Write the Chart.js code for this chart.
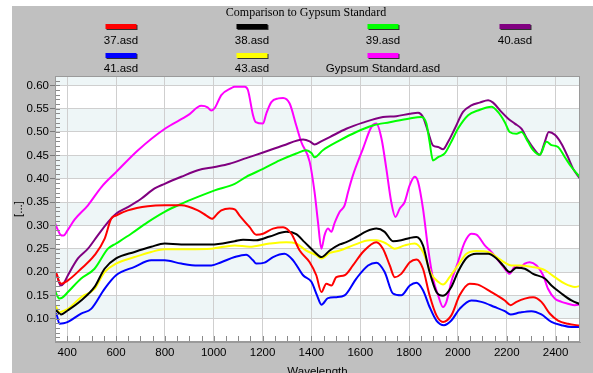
<!DOCTYPE html>
<html><head><meta charset="utf-8">
<script src="https://cdn.jsdelivr.net/npm/chart.js@4.4.1/dist/chart.umd.min.js"></script>
<style>
html,body{margin:0;padding:0;width:593px;height:373px;overflow:hidden;background:#ffffff;}
#panel{position:absolute;left:12px;top:6px;width:581px;height:367px;background:#c0c0c0;}
#wrap{position:absolute;left:0;top:0;width:593px;height:385px;}
.t{position:absolute;font-family:"Liberation Serif",serif;font-size:12px;color:#000;white-space:nowrap;transform:translate(-50%,-50%);}
.lab{position:absolute;font-family:"Liberation Sans",Arial,sans-serif;font-size:11.5px;color:#000;white-space:nowrap;transform:translate(-50%,-50%);}
.sw{position:absolute;width:31px;height:5px;box-shadow:1px 1px 0 #303030;transform:translateX(-50%);}
</style></head>
<body>
<div id="panel"></div>
<div id="wrap"><canvas id="c" width="593" height="385"></canvas></div>
<div id="legend"></div>
<script>
// ---- data ----
const seriesNames = ["37.asd","38.asd","39.asd","40.asd","41.asd","43.asd","Gypsum Standard.asd"];
const seriesColors = ["#ff0000","#000000","#00ff00","#800080","#0000ff","#ffff00","#ff00ff"];

const wl37 = [350,356,365,375,403,457,512,553,580,600,648,730,799,867,935,970,993,1015,1031,1065,1086,1106,1147,1174,1202,1243,1284,1318,1352,1393,1420,1441,1461,1482,1502,1536,1570,1611,1666,1693,1721,1741,1768,1803,1830,1857,1884,1912,1939,1973,2007,2048,2082,2137,2192,2216,2240,2274,2308,2342,2376,2410,2451,2500];
const v37  = [0.193,0.196,0.182,0.175,0.182,0.207,0.236,0.271,0.314,0.321,0.332,0.341,0.343,0.343,0.332,0.321,0.314,0.325,0.332,0.336,0.334,0.321,0.296,0.280,0.282,0.293,0.296,0.282,0.246,0.221,0.193,0.157,0.175,0.171,0.189,0.193,0.214,0.243,0.264,0.250,0.214,0.189,0.196,0.221,0.227,0.207,0.150,0.107,0.093,0.107,0.150,0.175,0.173,0.157,0.139,0.129,0.136,0.143,0.146,0.136,0.111,0.096,0.089,0.085];

const wl38 = [350,360,375,403,457,512,553,600,676,744,799,867,935,990,1086,1120,1174,1229,1297,1338,1372,1413,1441,1475,1516,1543,1584,1625,1666,1700,1734,1768,1803,1830,1857,1884,1912,1939,1973,2000,2035,2076,2124,2158,2185,2212,2240,2274,2308,2356,2383,2424,2465,2500];
const v38  = [0.121,0.115,0.109,0.118,0.139,0.168,0.207,0.229,0.243,0.254,0.261,0.259,0.259,0.259,0.266,0.269,0.268,0.276,0.286,0.281,0.264,0.243,0.232,0.246,0.259,0.264,0.275,0.287,0.293,0.286,0.266,0.268,0.273,0.275,0.257,0.200,0.157,0.149,0.168,0.200,0.230,0.239,0.239,0.229,0.214,0.200,0.209,0.207,0.196,0.186,0.171,0.154,0.139,0.131];

const wl39 = [350,358,368,380,403,457,512,567,600,662,730,799,867,935,1004,1086,1133,1202,1270,1338,1379,1400,1413,1447,1516,1584,1652,1721,1803,1850,1871,1884,1898,1919,1946,1973,2000,2042,2082,2137,2164,2192,2212,2240,2260,2287,2308,2335,2363,2383,2410,2438,2465,2500];
const v39  = [0.161,0.150,0.143,0.145,0.157,0.186,0.207,0.250,0.261,0.282,0.307,0.329,0.346,0.361,0.375,0.389,0.404,0.421,0.439,0.454,0.461,0.455,0.446,0.461,0.482,0.500,0.514,0.521,0.529,0.532,0.518,0.479,0.439,0.446,0.454,0.479,0.507,0.536,0.546,0.554,0.543,0.521,0.500,0.496,0.500,0.479,0.461,0.451,0.479,0.472,0.468,0.446,0.425,0.403];

const wl40 = [350,355,365,373,385,403,444,485,526,567,600,648,703,758,799,867,935,1004,1065,1133,1202,1284,1366,1393,1413,1440,1475,1543,1611,1693,1748,1803,1837,1857,1878,1898,1919,1939,1960,1987,2021,2055,2089,2124,2144,2178,2205,2233,2260,2287,2315,2335,2356,2372,2397,2424,2451,2472,2500];
const v40  = [0.193,0.196,0.180,0.171,0.175,0.193,0.229,0.250,0.279,0.307,0.325,0.339,0.357,0.379,0.389,0.404,0.418,0.425,0.432,0.444,0.456,0.471,0.484,0.480,0.473,0.480,0.489,0.507,0.520,0.532,0.534,0.539,0.541,0.532,0.500,0.471,0.468,0.463,0.479,0.507,0.543,0.557,0.563,0.568,0.563,0.543,0.529,0.518,0.507,0.482,0.461,0.451,0.479,0.500,0.494,0.475,0.446,0.421,0.400];

const wl41 = [350,355,368,385,403,457,498,553,600,676,744,799,867,935,990,1031,1086,1133,1161,1174,1208,1243,1290,1325,1366,1400,1423,1441,1468,1502,1536,1584,1632,1666,1700,1734,1768,1803,1830,1857,1884,1912,1943,1973,2007,2055,2096,2151,2192,2216,2253,2301,2342,2383,2424,2465,2500];
const v41  = [0.107,0.110,0.089,0.090,0.093,0.111,0.121,0.164,0.193,0.211,0.225,0.225,0.218,0.214,0.214,0.221,0.232,0.237,0.225,0.218,0.220,0.232,0.239,0.225,0.193,0.179,0.150,0.130,0.144,0.146,0.150,0.186,0.214,0.220,0.200,0.154,0.150,0.171,0.177,0.161,0.125,0.096,0.086,0.096,0.121,0.139,0.136,0.125,0.116,0.109,0.113,0.116,0.109,0.093,0.086,0.082,0.082];

const wl43 = [350,360,367,382,403,457,512,553,600,676,744,799,894,990,1086,1147,1229,1297,1338,1379,1420,1441,1475,1516,1570,1639,1666,1707,1741,1782,1823,1857,1891,1919,1939,1966,2000,2035,2076,2124,2164,2192,2219,2253,2301,2356,2397,2438,2479,2500];
const v43  = [0.129,0.120,0.113,0.116,0.121,0.146,0.164,0.200,0.218,0.232,0.243,0.249,0.249,0.250,0.257,0.254,0.261,0.264,0.261,0.246,0.236,0.229,0.241,0.246,0.257,0.268,0.268,0.261,0.250,0.257,0.261,0.243,0.196,0.179,0.173,0.189,0.214,0.239,0.245,0.243,0.230,0.220,0.214,0.214,0.211,0.204,0.189,0.175,0.168,0.170];

const wlGyp = [350,360,372,385,400,430,485,540,600,690,800,895,949,975,990,1005,1031,1072,1085,1127,1140,1161,1172,1202,1215,1236,1265,1284,1311,1338,1359,1393,1413,1427,1441,1454,1468,1482,1495,1516,1536,1550,1570,1611,1646,1666,1687,1707,1727,1744,1762,1782,1802,1823,1837,1857,1878,1898,1919,1939,1953,1973,2000,2028,2055,2076,2110,2137,2171,2192,2212,2233,2253,2274,2294,2322,2349,2369,2397,2424,2451,2479,2500];
const vGyp  = [0.305,0.292,0.280,0.278,0.288,0.312,0.343,0.382,0.414,0.461,0.507,0.536,0.556,0.553,0.546,0.552,0.579,0.594,0.597,0.597,0.590,0.536,0.521,0.518,0.539,0.564,0.572,0.573,0.561,0.514,0.478,0.436,0.371,0.307,0.250,0.279,0.293,0.286,0.305,0.329,0.343,0.371,0.407,0.464,0.511,0.518,0.486,0.421,0.350,0.318,0.336,0.350,0.385,0.404,0.393,0.336,0.250,0.186,0.150,0.125,0.136,0.179,0.221,0.264,0.282,0.280,0.257,0.243,0.221,0.207,0.196,0.211,0.209,0.218,0.221,0.214,0.193,0.164,0.143,0.136,0.132,0.129,0.130];

const xTickValues = [400,600,800,1000,1200,1400,1600,1800,2000,2200,2400];
const yTickValues = [0.10,0.15,0.20,0.25,0.30,0.35,0.40,0.45,0.50,0.55,0.60];

const allWl = [wl37,wl38,wl39,wl40,wl41,wl43,wlGyp];
const allV  = [v37,v38,v39,v40,v41,v43,vGyp];

// ---- legend & title (HTML text) ----
const legend = document.getElementById('legend');
function addEl(cls, text, x, y, extra){
  const d=document.createElement('div'); d.className=cls; if(text!==null) d.textContent=text;
  d.style.left=x+'px'; d.style.top=y+'px'; if(extra) Object.assign(d.style, extra); legend.appendChild(d); return d;
}
addEl('t','Comparison to Gypsum Standard',306,12);
const colX=[121,252,383,515];
seriesNames.forEach((n,i)=>{
  const row=Math.floor(i/4), col=i%4;
  addEl('sw',null,colX[col],row?53:24,{background:seriesColors[i]});
  addEl('lab',n,colX[col],row?68:40);
});

// ---- plugins ----
const bandPlugin={id:'bands',beforeDraw(chart){
  const {ctx,chartArea:a,scales:{y}}=chart;
  ctx.save();
  ctx.fillStyle='#ffffff'; ctx.fillRect(a.left,a.top,a.right-a.left,a.bottom-a.top);
  ctx.fillStyle='#eef6f7';
  for(let v=0.10; v<0.66; v+=0.10){
    const y1=y.getPixelForValue(v), y2=y.getPixelForValue(v+0.05);
    const t=Math.max(a.top,y2), b=Math.min(a.bottom,y1);
    if(b>t) ctx.fillRect(a.left,t,a.right-a.left,b-t);
  }
  ctx.restore();
},afterDraw(chart){
  const {ctx,chartArea:a,scales:{x,y}}=chart;
  ctx.save();
  ctx.strokeStyle='#8a8a8a'; ctx.lineWidth=1;
  ctx.beginPath();
  for(let v=0.05; v<=0.62; v+=0.01){
    const p=Math.round(y.getPixelForValue(v))+0.5;
    if(p<a.top||p>a.bottom) continue;
    ctx.moveTo(a.left,p); ctx.lineTo(a.left+5,p);
  }
  for(let v=400; v<2500; v+=50){
    const p=Math.round(x.getPixelForValue(v))+0.5;
    ctx.moveTo(p,a.bottom); ctx.lineTo(p,a.bottom-6);
  }
  ctx.stroke();
  ctx.strokeStyle='#9a9a9a';
  ctx.strokeRect(a.left+0.5,a.top+0.5,a.right-a.left-1,a.bottom-a.top-1);
  ctx.restore();
}};

const datasets = seriesNames.map((n,i)=>({
  label:n,
  data: allWl[i].map((w,k)=>({x:w,y:allV[i][k]})),
  borderColor: seriesColors[i],
  borderWidth: 2,
  pointRadius: 0,
  cubicInterpolationMode:'monotone',
  fill:false
}));

new Chart(document.getElementById('c'),{
  type:'line',
  data:{datasets},
  plugins:[bandPlugin],
  options:{
    responsive:false, animation:false, events:[],
    layout:{padding:{left:12,right:13,top:76,bottom:0}},
    plugins:{legend:{display:false},title:{display:false},tooltip:{enabled:false}},
    scales:{
      x:{type:'linear',min:350,max:2500,
        afterBuildTicks:s=>{s.ticks=xTickValues.map(v=>({value:v}));},
        afterFit:s=>{s.height=43;},
        ticks:{color:'#000',font:{family:'"Liberation Sans", Arial, sans-serif',size:11.5},padding:4,maxRotation:0,autoSkip:false,callback:v=>String(v)},
        grid:{color:'#cfcfcf',drawTicks:false},
        border:{display:true,color:'#9a9a9a'},
        title:{display:true,text:'Wavelength',color:'#000',font:{family:'"Liberation Sans", Arial, sans-serif',size:11.5},padding:{top:0,bottom:6}}
      },
      y:{type:'linear',min:0.05,max:0.62,
        afterBuildTicks:s=>{s.ticks=yTickValues.map(v=>({value:v}));},
        afterFit:s=>{s.width=43;},
        ticks:{color:'#000',font:{family:'"Liberation Sans", Arial, sans-serif',size:11.5},padding:1,autoSkip:false,callback:v=>Number(v).toFixed(2)},
        grid:{color:'#cfcfcf',drawTicks:true,tickLength:5,tickColor:'#7a7a7a'},
        border:{display:true,color:'#9a9a9a'},
        title:{display:true,text:'[...]',color:'#000',font:{family:'"Liberation Sans", Arial, sans-serif',size:11.5},padding:{top:0,bottom:0}}
      }
    }
  }
});
</script>
</body></html>
